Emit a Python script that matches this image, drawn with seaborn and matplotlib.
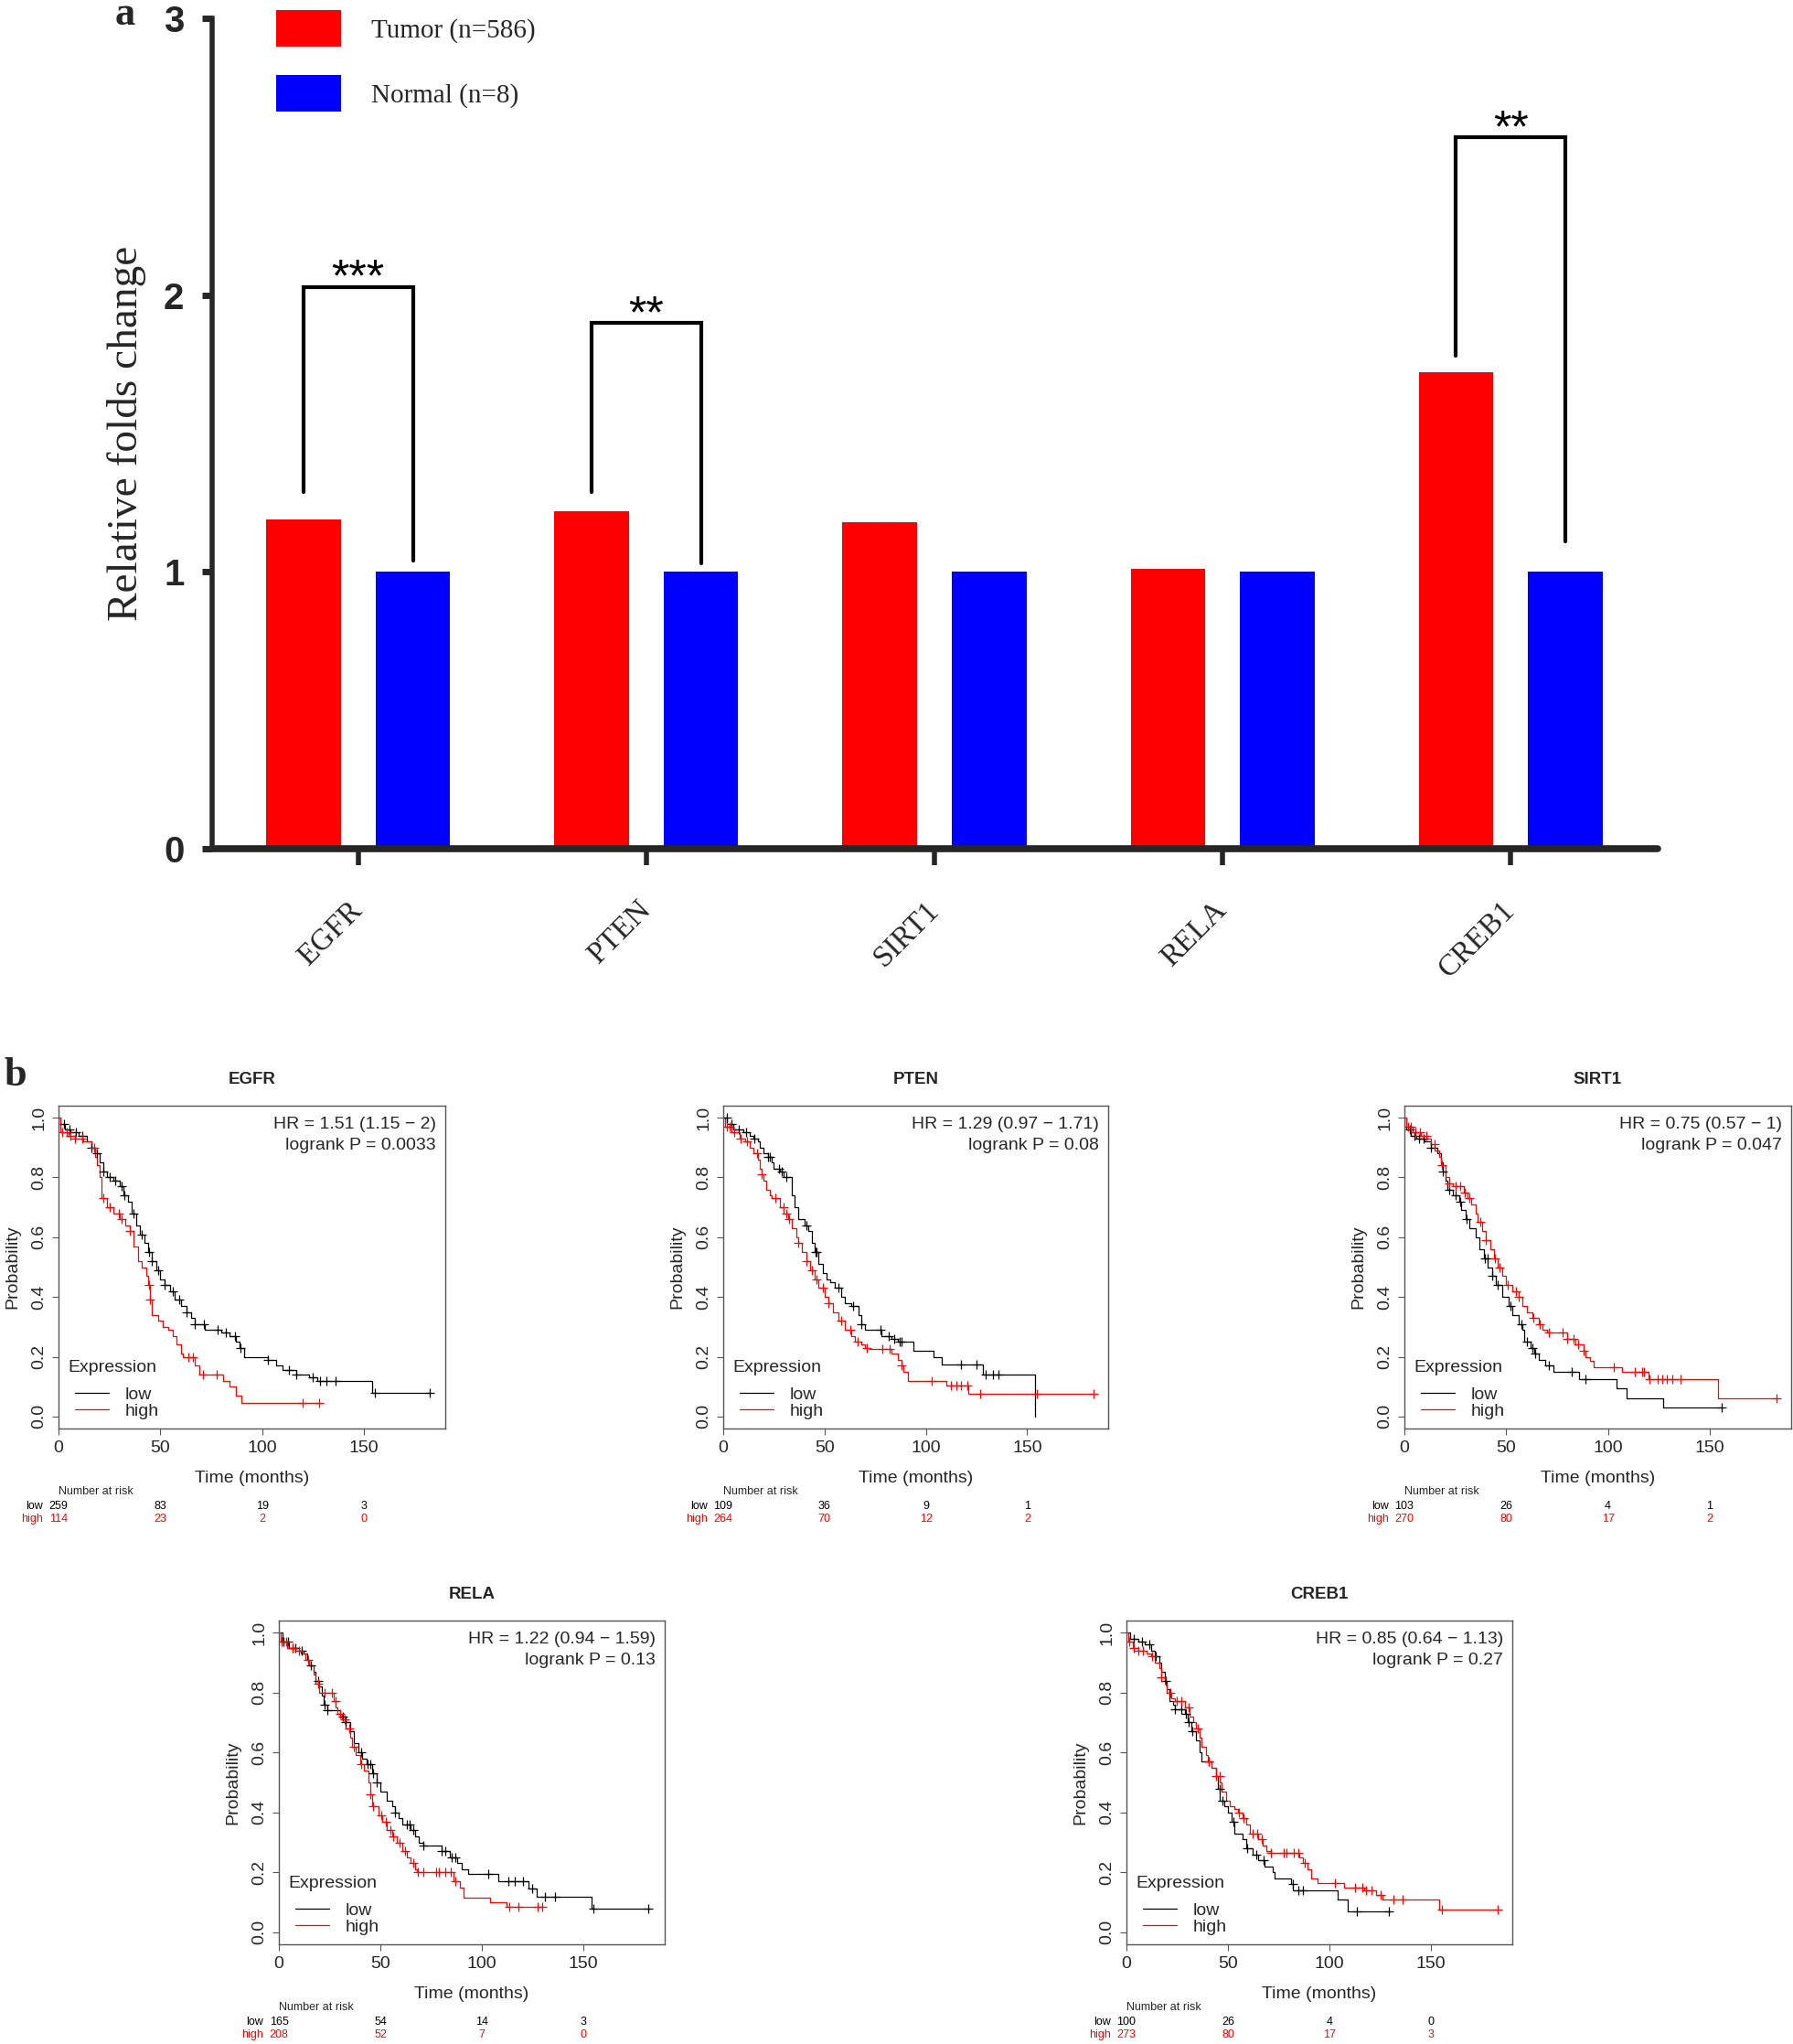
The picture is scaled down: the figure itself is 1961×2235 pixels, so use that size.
import numpy as np
import pandas as pd
import matplotlib
matplotlib.use("Agg")
import matplotlib.pyplot as plt
import seaborn as sns
from matplotlib.patches import Patch
from matplotlib.lines import Line2D

# ---------------- panel a: relative fold change ----------------
genes = ["EGFR", "PTEN", "SIRT1", "RELA", "CREB1"]
tumor = [1.19, 1.22, 1.18, 1.01, 1.72]
normal = [1.0, 1.0, 1.0, 1.0, 1.0]
group_labels = ["Tumor (n=586)", "Normal (n=8)"]

# significance brackets
sig_idx = [0, 1, 4]
sig_top = [2.03, 1.90, 2.57]
sig_left = [1.29, 1.29, 1.78]
sig_right = [1.04, 1.03, 1.11]
sig_text = ["***", "**", "**"]

# ---------------- panel b: Kaplan-Meier curves ----------------
egfr_low_t = [0, 1, 3, 6, 10, 14, 16, 18, 20, 22, 24, 27, 30, 32, 34, 36, 38, 40, 42, 44, 46, 48, 50, 52, 55, 57, 60, 63, 65, 67, 72, 80, 84, 87, 89, 91, 103, 107, 110, 117, 123, 127, 154, 183]
egfr_low_s = [1.0, 0.98, 0.96, 0.95, 0.94, 0.92, 0.90, 0.88, 0.85, 0.82, 0.80, 0.79, 0.77, 0.74, 0.72, 0.68, 0.64, 0.61, 0.58, 0.55, 0.52, 0.49, 0.46, 0.44, 0.42, 0.39, 0.37, 0.35, 0.33, 0.31, 0.29, 0.28, 0.27, 0.25, 0.23, 0.20, 0.19, 0.17, 0.155, 0.14, 0.13, 0.12, 0.08, 0.08]
egfr_low_c = [2.5, 5.5, 8.5, 11.5, 16, 19, 22, 25, 28, 31, 32.5, 37, 41, 44.5, 46, 49, 52, 56, 59.5, 63, 67, 71.5, 78, 82, 86.5, 89.5, 103, 113, 117, 125, 128.5, 131.5, 136, 155.5, 182.5]
egfr_high_t = [0, 1, 5, 8, 12, 16, 18, 19, 20, 21, 24, 27, 30, 33, 35, 37, 39, 41, 43, 44, 45, 46, 49, 51, 54, 56, 58, 60, 61, 67, 69, 81, 84, 87, 90, 129]
egfr_high_s = [1.0, 0.95, 0.94, 0.93, 0.92, 0.90, 0.87, 0.84, 0.80, 0.73, 0.70, 0.68, 0.66, 0.64, 0.62, 0.57, 0.52, 0.50, 0.47, 0.44, 0.39, 0.34, 0.32, 0.30, 0.29, 0.27, 0.24, 0.21, 0.20, 0.17, 0.14, 0.12, 0.10, 0.07, 0.045, 0.045]
egfr_high_c = [2, 4, 6, 8, 11.5, 17.5, 22, 25, 29.5, 31, 35, 44.5, 45, 64, 66, 71, 77.5, 120, 128]

pten_low_t = [0, 2, 5, 10, 13, 15, 17, 18, 20, 22, 24, 25, 28, 30, 33.7, 35, 37, 40, 42, 44, 45, 47, 49, 51, 53, 55, 58, 60, 63, 67, 68, 70, 78, 83, 86, 94, 104, 108, 128, 154]
pten_low_s = [1.0, 0.98, 0.96, 0.95, 0.94, 0.93, 0.92, 0.90, 0.88, 0.87, 0.85, 0.83, 0.82, 0.80, 0.74, 0.70, 0.66, 0.64, 0.62, 0.58, 0.55, 0.51, 0.48, 0.46, 0.45, 0.43, 0.40, 0.38, 0.37, 0.34, 0.31, 0.29, 0.27, 0.26, 0.25, 0.22, 0.20, 0.175, 0.14, 0.0]
pten_low_c = [1.8, 4, 7.8, 11.5, 15.3, 22, 23, 27.4, 29, 31, 41, 45.4, 46, 56.7, 64, 68, 77.7, 81.5, 84.5, 87, 88, 117.5, 125, 129.5, 133, 136]
pten_high_t = [0, 1, 4, 8, 11, 13, 15, 17, 18, 19, 20, 21, 23, 24, 28, 30, 32, 34, 36, 37, 39, 41, 43, 45, 47, 50, 52, 54, 57, 60, 63, 65, 68, 70, 72, 83, 86, 88, 89, 91, 110, 121, 183]
pten_high_s = [1.0, 0.97, 0.95, 0.93, 0.92, 0.90, 0.88, 0.86, 0.83, 0.81, 0.79, 0.76, 0.74, 0.73, 0.70, 0.68, 0.66, 0.63, 0.60, 0.58, 0.55, 0.52, 0.49, 0.46, 0.43, 0.40, 0.38, 0.35, 0.32, 0.29, 0.27, 0.25, 0.24, 0.23, 0.225, 0.21, 0.19, 0.17, 0.15, 0.12, 0.105, 0.075, 0.075]
pten_high_c = [1.8, 3.3, 5.6, 8.6, 11.6, 16.8, 19, 25.9, 29.6, 31, 32.6, 37, 41, 43.9, 46, 49, 52, 58, 62.7, 66.4, 71, 78.4, 82.2, 88.2, 103, 112.3, 115.3, 117.5, 120.5, 127, 155, 183]

sirt1_low_t = [0, 1, 3, 6, 10, 13, 16, 18, 19, 20, 21, 24, 27, 28, 30, 32, 35, 37, 39, 41, 43, 45, 48, 51, 53, 56, 58, 59, 62, 64, 66, 69, 73, 86, 104, 109, 127, 156]
sirt1_low_s = [1.0, 0.96, 0.94, 0.93, 0.92, 0.90, 0.88, 0.85, 0.82, 0.79, 0.76, 0.74, 0.72, 0.69, 0.66, 0.63, 0.60, 0.56, 0.53, 0.50, 0.47, 0.44, 0.40, 0.37, 0.34, 0.31, 0.29, 0.25, 0.23, 0.21, 0.19, 0.17, 0.15, 0.125, 0.095, 0.06, 0.03, 0.03]
sirt1_low_c = [2.6, 4.8, 7, 9.3, 13, 19, 22, 25, 27.4, 30.4, 39.4, 40.9, 43, 46, 52, 57.4, 60.4, 62.7, 64.2, 71, 82, 89, 156]
sirt1_high_t = [0, 1, 4, 8, 11, 13, 15, 17, 18, 20, 22, 24, 29, 31, 33, 35, 36, 38, 40, 42, 44, 46, 48, 50, 53, 56, 58, 60, 63, 66, 68, 70, 80, 84, 88, 89, 91, 93, 107, 120, 154, 183]
sirt1_high_s = [1.0, 0.97, 0.95, 0.94, 0.93, 0.91, 0.89, 0.87, 0.84, 0.80, 0.78, 0.77, 0.75, 0.73, 0.71, 0.68, 0.65, 0.62, 0.59, 0.56, 0.53, 0.50, 0.47, 0.44, 0.42, 0.40, 0.37, 0.35, 0.33, 0.31, 0.29, 0.28, 0.26, 0.24, 0.22, 0.20, 0.185, 0.165, 0.15, 0.125, 0.06, 0.06]
sirt1_high_c = [1.8, 3.3, 5.6, 7.8, 10.8, 14.6, 18.3, 22, 25, 27.4, 29.6, 31.9, 37.1, 40, 44.6, 46.9, 50.7, 55, 56, 63.4, 66.4, 71, 77.7, 80, 83, 85.2, 88, 103, 113, 116.7, 117.5, 120.6, 124.4, 126.6, 129, 131.8, 135.6, 183]

rela_low_t = [0, 2, 5, 10, 12, 14, 15, 17, 18, 20, 21, 22, 24, 30, 33, 35, 37, 39, 41, 43, 46, 48, 50, 53, 56, 57, 59, 61, 65, 67, 69, 71, 80, 84, 88, 90, 93, 108, 123, 127, 154, 183]
rela_low_s = [1.0, 0.97, 0.95, 0.94, 0.93, 0.91, 0.89, 0.87, 0.84, 0.82, 0.79, 0.76, 0.74, 0.72, 0.70, 0.67, 0.63, 0.60, 0.58, 0.56, 0.53, 0.50, 0.47, 0.44, 0.42, 0.40, 0.38, 0.36, 0.34, 0.32, 0.30, 0.29, 0.27, 0.25, 0.23, 0.21, 0.195, 0.17, 0.145, 0.12, 0.08, 0.08]
rela_low_c = [2.3, 4.5, 6.8, 8.3, 11.3, 15.8, 19.5, 22.5, 24, 31.5, 33, 40.5, 43.5, 45, 46.5, 48, 57, 63, 64.5, 66, 71, 80, 82, 85, 87, 103, 113, 116, 120, 124.5, 131, 136, 155, 182]
rela_high_t = [0, 1, 4, 8, 11, 13, 15, 17, 18, 20, 27, 28, 29, 31, 33, 35, 36, 38, 40, 42, 44, 45, 46, 49, 51, 53, 56, 58, 61, 63, 65, 67, 68, 86, 89, 91, 104, 112, 130]
rela_high_s = [1.0, 0.97, 0.95, 0.94, 0.93, 0.91, 0.89, 0.86, 0.83, 0.80, 0.77, 0.75, 0.73, 0.71, 0.68, 0.65, 0.62, 0.59, 0.56, 0.54, 0.50, 0.46, 0.42, 0.39, 0.37, 0.34, 0.32, 0.30, 0.27, 0.25, 0.23, 0.21, 0.20, 0.17, 0.15, 0.115, 0.10, 0.085, 0.085]
rela_high_c = [1.5, 3.8, 6.8, 9.8, 14.3, 19.5, 22.5, 26.3, 27.8, 30, 32.3, 34.5, 36.8, 40.5, 45, 46.5, 50.3, 52.5, 54.8, 56.3, 59.3, 62.3, 66, 68.3, 71.3, 77.3, 78.8, 81.8, 84.8, 87, 113.3, 117.8, 127.5, 129.7]

creb1_low_t = [0, 2, 6, 9, 12, 14, 16, 17, 19, 20, 21, 23, 24, 29, 30, 32, 34, 36, 37, 42, 44, 45, 46, 48, 50, 52, 53, 57, 59, 62, 65, 68, 72, 73, 81, 82, 104, 109, 130]
creb1_low_s = [1.0, 0.98, 0.97, 0.96, 0.94, 0.92, 0.90, 0.87, 0.84, 0.81, 0.77, 0.76, 0.745, 0.73, 0.70, 0.67, 0.64, 0.60, 0.57, 0.55, 0.52, 0.48, 0.44, 0.42, 0.40, 0.37, 0.33, 0.31, 0.28, 0.26, 0.24, 0.22, 0.20, 0.18, 0.16, 0.14, 0.11, 0.07, 0.07]
creb1_low_c = [3.8, 7.5, 11.3, 14.3, 19.5, 24, 27, 29.3, 30.8, 32.3, 40.5, 45.8, 47.3, 52.5, 59.3, 63.8, 67.5, 81.8, 84.8, 87, 113.3, 129]
creb1_high_t = [0, 1, 3, 6, 10, 12, 14, 16, 17, 19, 20, 22, 24, 29, 31, 33, 34, 36, 37, 39, 40, 42, 44, 46, 47, 49, 51, 53, 55, 57, 59, 61, 65, 67, 69, 71, 85, 87, 89, 91, 94, 107, 117, 123, 126, 154, 183]
creb1_high_s = [1.0, 0.97, 0.95, 0.94, 0.93, 0.92, 0.90, 0.88, 0.85, 0.83, 0.80, 0.78, 0.77, 0.75, 0.72, 0.70, 0.68, 0.65, 0.62, 0.59, 0.57, 0.55, 0.52, 0.50, 0.47, 0.44, 0.42, 0.41, 0.40, 0.38, 0.36, 0.33, 0.31, 0.29, 0.27, 0.265, 0.25, 0.23, 0.21, 0.18, 0.165, 0.15, 0.14, 0.125, 0.11, 0.075, 0.075]
creb1_high_c = [1.5, 3.8, 6, 8.3, 12.8, 17.3, 21.8, 24.8, 27, 30.8, 35.3, 40.5, 44.3, 45.8, 55.5, 57.8, 62.3, 64.5, 66.8, 71.3, 77.3, 78.8, 82.5, 84.8, 87.8, 102.8, 112.5, 116.3, 117.8, 120.8, 125.3, 131.3, 135.8, 155.3, 183]

hr_text = {
    "EGFR": "HR = 1.51 (1.15 \u2212 2)\nlogrank P = 0.0033",
    "PTEN": "HR = 1.29 (0.97 \u2212 1.71)\nlogrank P = 0.08",
    "SIRT1": "HR = 0.75 (0.57 \u2212 1)\nlogrank P = 0.047",
    "RELA": "HR = 1.22 (0.94 \u2212 1.59)\nlogrank P = 0.13",
    "CREB1": "HR = 0.85 (0.64 \u2212 1.13)\nlogrank P = 0.27",
}
risk_times = [0, 50, 100, 150]
risk_low = {"EGFR": [259, 83, 19, 3], "PTEN": [109, 36, 9, 1], "SIRT1": [103, 26, 4, 1],
            "RELA": [165, 54, 14, 3], "CREB1": [100, 26, 4, 0]}
risk_high = {"EGFR": [114, 23, 2, 0], "PTEN": [264, 70, 12, 2], "SIRT1": [270, 80, 17, 2],
             "RELA": [208, 52, 7, 0], "CREB1": [273, 80, 17, 3]}

km_curves = {
    "EGFR": (egfr_low_t, egfr_low_s, egfr_low_c, egfr_high_t, egfr_high_s, egfr_high_c),
    "PTEN": (pten_low_t, pten_low_s, pten_low_c, pten_high_t, pten_high_s, pten_high_c),
    "SIRT1": (sirt1_low_t, sirt1_low_s, sirt1_low_c, sirt1_high_t, sirt1_high_s, sirt1_high_c),
    "RELA": (rela_low_t, rela_low_s, rela_low_c, rela_high_t, rela_high_s, rela_high_c),
    "CREB1": (creb1_low_t, creb1_low_s, creb1_low_c, creb1_high_t, creb1_high_s, creb1_high_c),
}

sns.set_style("white")
plt.rcParams["font.family"] = ["Liberation Sans", "DejaVu Sans"]

W, H = 1961, 2235
fig = plt.figure(figsize=(W / 100, H / 100), dpi=100)


def px_axes(x0, y0, x1, y1):
    return fig.add_axes([x0 / W, 1 - y1 / H, (x1 - x0) / W, (y1 - y0) / H])


RED = "#FF0000"
BLUE = "#0000FF"
SERIF = ["Liberation Serif", "DejaVu Serif"]

# ---------------- bar chart ----------------
ax = px_axes(232, 20, 1813, 928)
df = pd.DataFrame({
    "gene": genes * 2,
    "group": [group_labels[0]] * len(genes) + [group_labels[1]] * len(genes),
    "value": tumor + normal,
})
bar_w = 0.76
sns.barplot(data=df, x="gene", y="value", hue="group", order=genes, hue_order=group_labels,
            palette=[RED, BLUE], saturation=1, width=bar_w, gap=0.32, errorbar=None,
            legend=False, linewidth=0, ax=ax)
ax.set_xlim(-0.507, 4.51)
ax.set_ylim(0, 3)
ax.set_yticks([0, 1, 2, 3])
ax.set_yticklabels(["0", "1", "2", "3"], fontweight="bold", fontsize=29,
                   fontstretch="condensed")
ax.set_xticks(range(len(genes)))
ax.set_xticklabels(genes, rotation=45, ha="right", va="center", rotation_mode="anchor",
                   fontfamily=SERIF, fontsize=24)
ax.tick_params(axis="y", left=True, length=8, width=5, pad=14, direction="out")
ax.tick_params(axis="x", bottom=True, length=13, width=4, pad=32, direction="out")
for side in ["top", "right"]:
    ax.spines[side].set_visible(False)
ax.spines["left"].set_linewidth(4)
ax.spines["bottom"].set_linewidth(5.5)
ax.spines["bottom"].set_capstyle("round")
ax.set_xlabel("")
ax.set_ylabel("Relative folds change", fontfamily=SERIF, fontsize=34, labelpad=14)

off = bar_w / 4
for i, top, lb, rb, txt in zip(sig_idx, sig_top, sig_left, sig_right, sig_text):
    ax.plot([i - off, i - off, i + off, i + off], [lb, top, top, rb], color="black", lw=3,
            solid_joinstyle="miter")
    ax.text(i, top - 0.05, txt, ha="center", va="bottom", fontsize=36, color="black")

leg_handles = [Patch(facecolor=RED, edgecolor="none"), Patch(facecolor=BLUE, edgecolor="none")]
ax.legend(leg_handles, group_labels, loc="upper left", bbox_to_anchor=(302 / W, 1 - 11 / H),
          bbox_transform=fig.transFigure, frameon=False, prop={"family": SERIF, "size": 21},
          handlelength=2.45, handleheight=1.75, handletextpad=1.1, labelspacing=1.05,
          borderpad=0, borderaxespad=0)

fig.text(137 / W, 1 - 16 / H, "a", fontfamily=SERIF, fontweight="bold", fontsize=32,
         ha="center", va="center")
fig.text(17 / W, 1 - 1176 / H, "b", fontfamily=SERIF, fontweight="bold", fontsize=32,
         ha="center", va="center")

# ---------------- KM panels ----------------
km_boxes = {
    "EGFR": (64, 1209, 487, 1562),
    "PTEN": (791, 1209, 1212, 1562),
    "SIRT1": (1536, 1209, 1959, 1562),
    "RELA": (305, 1772, 727, 2126),
    "CREB1": (1232, 1772, 1654, 2126),
}
BOX = "#555555"


def step_at(t, s, c):
    t = np.asarray(t)
    s = np.asarray(s)
    idx = np.searchsorted(t, np.asarray(c), side="right") - 1
    return s[np.clip(idx, 0, len(s) - 1)]


for gene in genes:
    lt, ls, lc, ht, hs, hc = km_curves[gene]
    x0, y0, x1, y1 = km_boxes[gene]
    bw, bh = x1 - x0, y1 - y0
    kax = px_axes(x0, y0, x1, y1)
    kax.step(lt, ls, where="post", color="black", lw=0.9)
    kax.step(ht, hs, where="post", color=RED, lw=0.9)
    kax.plot(lc, step_at(lt, ls, lc), "+", color="black", ms=7, mew=0.9)
    kax.plot(hc, step_at(ht, hs, hc), "+", color=RED, ms=7, mew=0.9)
    kax.set_xlim(0, 190)
    kax.set_ylim(-0.04, 1.04)
    kax.set_xticks([0, 50, 100, 150])
    kax.set_xticklabels(["0", "50", "100", "150"], fontsize=14)
    kax.set_yticks([0, 0.2, 0.4, 0.6, 0.8, 1.0])
    kax.set_yticklabels(["0.0", "0.2", "0.4", "0.6", "0.8", "1.0"], rotation=90, va="center",
                        fontsize=14)
    kax.tick_params(direction="out", length=5, width=0.8, color=BOX, pad=4, left=True, bottom=True)
    for sp in kax.spines.values():
        sp.set_visible(True)
        sp.set_color(BOX)
        sp.set_linewidth(1)
    kax.set_title(gene, fontweight="bold", fontsize=13.5, pad=17)
    kax.set_xlabel("Time (months)", fontsize=14, labelpad=12)
    kax.set_ylabel("Probability", fontsize=14, labelpad=9)
    kax.text(0.976, 0.965, hr_text[gene], transform=kax.transAxes, ha="right", va="top",
             fontsize=14, linespacing=1.4)
    # legend: title drawn as text, entries as a legend
    kax.text(10 / bw, 67 / bh, "Expression", transform=kax.transAxes, ha="left", va="center",
             fontsize=14)
    handles = [Line2D([], [], color="black", lw=0.9), Line2D([], [], color=RED, lw=0.9)]
    kax.legend(handles, ["low", "high"], loc="lower left", bbox_to_anchor=(8 / bw, 0.0),
               frameon=False, fontsize=14, handlelength=1.9, handletextpad=0.9,
               labelspacing=0.05, borderaxespad=0, borderpad=0.5)
    # number at risk table
    kax.annotate("Number at risk", xy=(0, 0), xycoords=("data", "axes fraction"),
                 xytext=(0, -49.5), textcoords="offset points", ha="left", va="center", fontsize=9)
    for row, vals, col, dy in [("low", risk_low[gene], "black", -61),
                               ("high", risk_high[gene], RED, -71)]:
        kax.annotate(row, xy=(0, 0), xycoords="axes fraction", xytext=(-12, dy),
                     textcoords="offset points", ha="right", va="center", fontsize=9, color=col)
        for tx, v in zip(risk_times, vals):
            kax.annotate(str(v), xy=(tx, 0), xycoords=("data", "axes fraction"), xytext=(0, dy),
                         textcoords="offset points", ha="center", va="center", fontsize=9,
                         color=col)

fig.savefig("out.png", dpi=100)
